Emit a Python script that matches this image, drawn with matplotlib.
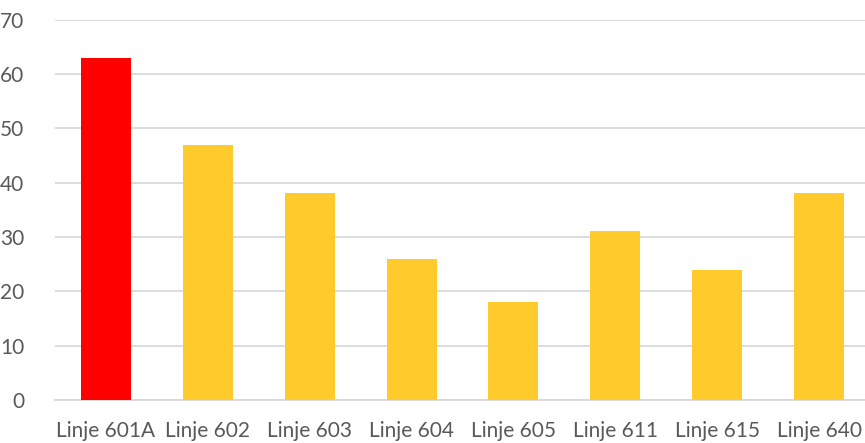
import matplotlib
matplotlib.use("Agg")
import matplotlib.pyplot as plt

categories = ["Linje 601A", "Linje 602", "Linje 603", "Linje 604",
              "Linje 605", "Linje 611", "Linje 615", "Linje 640"]
values = [63, 47, 38, 26, 18, 31, 24, 38]
colors = ["#FF0000"] + ["#FFCA2C"] * 7
y_ticks = [0, 10, 20, 30, 40, 50, 60, 70]

plt.rcParams["font.family"] = ["Lato", "DejaVu Sans"]

W, H = 865, 443
fig = plt.figure(figsize=(W / 100, H / 100), dpi=100)
left, right, top, bottom = 55, 870, 19.5, 400
ax = fig.add_axes([left / W, (H - bottom) / H, (right - left) / W, (bottom - top) / H])

x = range(len(categories))
ax.bar(x, values, width=0.49, color=colors, zorder=3)

ax.set_xlim(-0.5, len(categories) - 0.5)
ax.set_ylim(0, 70)
ax.set_yticks(y_ticks)
ax.set_xticks(list(x))
ax.set_xticklabels(categories)

ax.grid(axis="y", color="#D9D9D9", linewidth=1.3, zorder=0)
for s in ["top", "right", "left"]:
    ax.spines[s].set_visible(False)
ax.spines["bottom"].set_color("#D9D9D9")
ax.spines["bottom"].set_linewidth(1.3)
ax.tick_params(axis="both", length=0, labelsize=15, colors="#595959")
ax.tick_params(axis="x", pad=15)
ax.tick_params(axis="y", pad=22)

fig.savefig("out.png", dpi=100)
